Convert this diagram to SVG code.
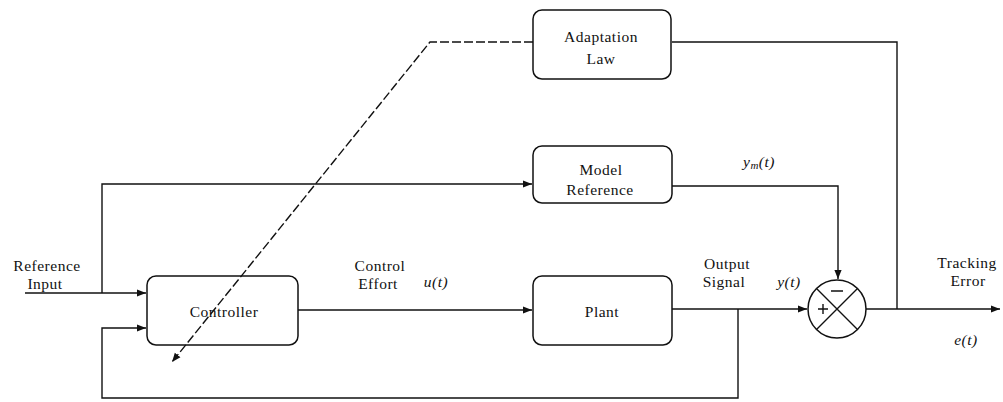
<svg xmlns="http://www.w3.org/2000/svg" width="1003" height="402" viewBox="0 0 1003 402">
<defs>
<style>
.box{fill:none;stroke:#111;stroke-width:1.5}
.ln{fill:none;stroke:#111;stroke-width:1.4}
.t{font-size:15.5px;letter-spacing:0.5px;fill:#111;text-anchor:middle}
.m{font-size:15.5px;font-style:italic;letter-spacing:0.5px;fill:#111;text-anchor:middle}
</style>
<marker id="ar" viewBox="0 0 10 10" refX="10" refY="5" markerWidth="9" markerHeight="9" markerUnits="userSpaceOnUse" orient="auto">
<path d="M0,1 L10,5 L0,9 z" fill="#111"/>
</marker>
</defs>
<rect width="1003" height="402" fill="#fff"/>
<g font-family="'Liberation Serif', 'Times New Roman', serif">
<g id="adaptation">
<rect class="box" x="533" y="10" width="138" height="69" rx="9"/>
<text class="t" x="601" y="42">Adaptation</text>
<text class="t" x="601" y="64">Law</text>
</g>
<g id="model">
<rect class="box" x="533" y="146" width="139" height="57" rx="9"/>
<text class="t" x="601" y="175">Model</text>
<text class="t" x="600" y="195">Reference</text>
</g>
<g id="controller">
<rect class="box" x="147" y="276" width="151" height="69" rx="9"/>
<text class="t" x="224" y="317">Controller</text>
</g>
<g id="plant">
<rect class="box" x="533" y="276" width="139" height="69" rx="9"/>
<text class="t" x="602" y="317">Plant</text>
</g>
<g id="sum">
<circle class="box" cx="837" cy="309" r="29"/>
<path class="ln" d="M816.5,288.5 L857.5,329.5 M857.5,288.5 L816.5,329.5"/>
<path class="ln" d="M831,291 H843 M818,309 H828 M823,304 V314"/>
</g>
<g id="labels">
<text class="t" x="47" y="271">Reference</text>
<text class="t" x="45" y="289">Input</text>
<text class="t" x="380" y="271">Control</text>
<text class="t" x="378" y="289">Effort</text>
<text class="m" x="436" y="287">u(t)</text>
<text class="t" x="727" y="269">Output</text>
<text class="t" x="724" y="287">Signal</text>
<text class="m" x="789" y="287">y(t)</text>
<text class="m" x="759" y="167">y<tspan font-size="11" dy="2">m</tspan><tspan dy="-2">(t)</tspan></text>
<text class="t" x="967" y="268">Tracking</text>
<text class="t" x="968" y="286">Error</text>
<text class="m" x="966" y="345">e(t)</text>
</g>
</g>
<g id="connectors">
<path class="ln" d="M25,293 H146" marker-end="url(#ar)"/>
<path class="ln" d="M102,293 V184 H532" marker-end="url(#ar)"/>
<path class="ln" d="M738,309 V398 H102 V328 H146" marker-end="url(#ar)"/>
<path class="ln" d="M298,310 H532" marker-end="url(#ar)"/>
<path class="ln" d="M672,309 H807" marker-end="url(#ar)"/>
<path class="ln" d="M672,186 H838 V279" marker-end="url(#ar)"/>
<path class="ln" d="M866,309 H1000" marker-end="url(#ar)"/>
<path class="ln" d="M672,42 H897 V309"/>
<path class="ln" d="M533,42 H430 L172,362" marker-end="url(#ar)" stroke-dasharray="9,3"/>
</g>
</svg>
